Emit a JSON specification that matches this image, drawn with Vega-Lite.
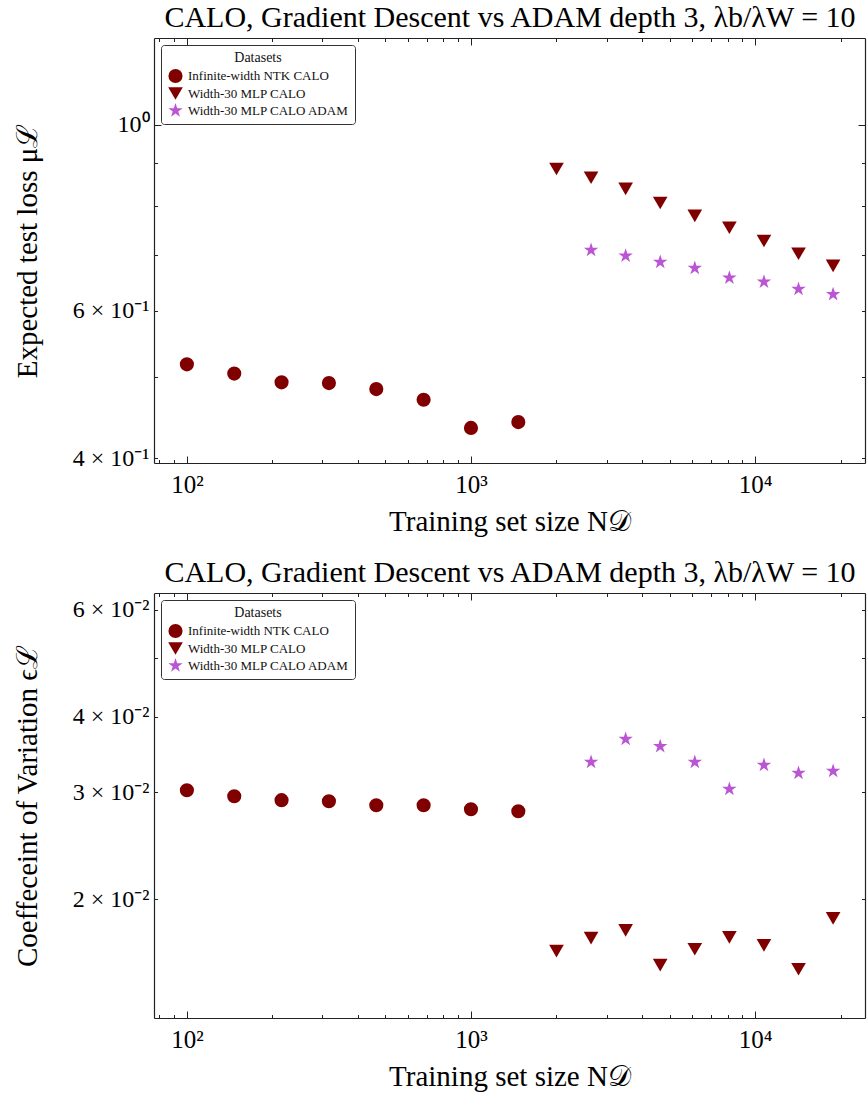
{
  "$schema": "https://vega.github.io/schema/vega-lite/v6.json",
  "autosize": "none",
  "width": 711,
  "height": 980,
  "padding": {"left": 154, "top": 38, "right": 3, "bottom": 75},
  "data": {"values": [
    {"series": "Infinite-width NTK CALO", "N": 100, "loss": 0.518, "cv": 0.03026},
    {"series": "Infinite-width NTK CALO", "N": 146.8, "loss": 0.505, "cv": 0.02958},
    {"series": "Infinite-width NTK CALO", "N": 215.4, "loss": 0.493, "cv": 0.02914},
    {"series": "Infinite-width NTK CALO", "N": 316.2, "loss": 0.492, "cv": 0.02902},
    {"series": "Infinite-width NTK CALO", "N": 464.2, "loss": 0.484, "cv": 0.02858},
    {"series": "Infinite-width NTK CALO", "N": 681.3, "loss": 0.470, "cv": 0.02858},
    {"series": "Infinite-width NTK CALO", "N": 1000, "loss": 0.435, "cv": 0.02815},
    {"series": "Infinite-width NTK CALO", "N": 1467.8, "loss": 0.442, "cv": 0.02794},
    {"series": "Width-30 MLP CALO", "N": 2000, "loss": 0.886, "cv": 0.01642},
    {"series": "Width-30 MLP CALO", "N": 2647, "loss": 0.865, "cv": 0.01725},
    {"series": "Width-30 MLP CALO", "N": 3503, "loss": 0.839, "cv": 0.01777},
    {"series": "Width-30 MLP CALO", "N": 4636, "loss": 0.807, "cv": 0.01557},
    {"series": "Width-30 MLP CALO", "N": 6136, "loss": 0.779, "cv": 0.01654},
    {"series": "Width-30 MLP CALO", "N": 8121, "loss": 0.754, "cv": 0.01731},
    {"series": "Width-30 MLP CALO", "N": 10748, "loss": 0.727, "cv": 0.01679},
    {"series": "Width-30 MLP CALO", "N": 14225, "loss": 0.702, "cv": 0.01533},
    {"series": "Width-30 MLP CALO", "N": 18826, "loss": 0.679, "cv": 0.01860},
    {"series": "Width-30 MLP CALO ADAM", "N": 2647, "loss": 0.709, "cv": 0.03366},
    {"series": "Width-30 MLP CALO ADAM", "N": 3503, "loss": 0.698, "cv": 0.03673},
    {"series": "Width-30 MLP CALO ADAM", "N": 4636, "loss": 0.686, "cv": 0.03576},
    {"series": "Width-30 MLP CALO ADAM", "N": 6136, "loss": 0.675, "cv": 0.03366},
    {"series": "Width-30 MLP CALO ADAM", "N": 8121, "loss": 0.657, "cv": 0.03038},
    {"series": "Width-30 MLP CALO ADAM", "N": 10748, "loss": 0.650, "cv": 0.03328},
    {"series": "Width-30 MLP CALO ADAM", "N": 14225, "loss": 0.637, "cv": 0.03229},
    {"series": "Width-30 MLP CALO ADAM", "N": 18826, "loss": 0.628, "cv": 0.03254}
  ]},
  "layer": [
    {
      "mark": {"type": "point", "filled": true, "opacity": 1},
      "encoding": {
        "x": {"field": "N", "type": "quantitative", "scale": {"type": "log", "domain": [76.6, 24380], "nice": false},
          "axis": {"orient": "bottom", "offset": -555, "values": [100, 1000, 10000], "ticks": false, "domain": false, "labelPadding": 9, "labelFontSize": 25,
            "labelExpr": "datum.value == 100 ? '10²' : datum.value == 1000 ? '10³' : '10⁴'",
            "title": "Training set size N𝒟", "titleFontSize": 29, "titlePadding": 10}},
        "y": {"field": "loss", "type": "quantitative", "scale": {"type": "log", "domain": [0.395, 1.27], "range": [425, 0], "nice": false},
          "axis": {"orient": "left", "values": [0.4, 0.6, 1], "ticks": false, "domain": false, "labelPadding": 5, "labelFontSize": 24,
            "labelExpr": "datum.value == 1 ? '10⁰' : datum.value == 0.6 ? '6 × 10⁻¹' : '4 × 10⁻¹'",
            "title": "Expected test loss μℒ", "titleFontSize": 29, "titleX": -127, "titleBaseline": "middle", "titleAlign": "center", "titleAngle": -90}},
        "color": {"field": "series", "type": "nominal",
          "scale": {"domain": ["Infinite-width NTK CALO", "Width-30 MLP CALO", "Width-30 MLP CALO ADAM"], "range": ["#800000", "#800000", "#BA55D3"]},
          "legend": {"title": "Datasets", "orient": "top-left", "offset": 7}},
        "shape": {"field": "series", "type": "nominal",
          "scale": {"domain": ["Infinite-width NTK CALO", "Width-30 MLP CALO", "Width-30 MLP CALO ADAM"], "range": ["circle", "triangle-down", "M0,-1L0.2245,-0.309L0.9511,-0.309L0.3633,0.118L0.5878,0.809L0,0.382L-0.5878,0.809L-0.3633,0.118L-0.9511,-0.309L-0.2245,-0.309Z"]},
          "legend": {"title": "Datasets", "orient": "top-left", "offset": 7}},
        "size": {"field": "series", "type": "nominal",
          "scale": {"domain": ["Infinite-width NTK CALO", "Width-30 MLP CALO", "Width-30 MLP CALO ADAM"], "range": [200, 230, 240]},
          "legend": null}
      }
    },
    {
      "mark": {"type": "point", "opacity": 0},
      "encoding": {
        "x": {"field": "N", "type": "quantitative", "scale": {"type": "log", "domain": [76.6, 24380], "nice": false},
          "axis": {"orient": "top", "offset": 0, "labels": false, "ticks": false, "domain": false, "values": [100],
            "title": "CALO, Gradient Descent vs ADAM depth 3, λb/λW = 10", "titleFontSize": 30, "titlePadding": 6}},
        "y": {"field": "loss", "type": "quantitative", "scale": {"type": "log", "domain": [0.395, 1.27], "range": [425, 0], "nice": false},
          "axis": {"orient": "right", "offset": -711, "labels": false, "title": null, "domain": true, "values": [1], "tickSize": 7}}
      }
    },
    {
      "mark": {"type": "point", "opacity": 0},
      "encoding": {
        "x": {"field": "N", "type": "quantitative", "scale": {"type": "log", "domain": [76.6, 24380], "nice": false},
          "axis": {"orient": "bottom", "offset": -980, "labels": false, "title": null, "domain": true, "values": [100, 1000, 10000], "tickSize": 7}},
        "y": {"field": "loss", "type": "quantitative", "scale": {"type": "log", "domain": [0.395, 1.27], "range": [425, 0], "nice": false},
          "axis": {"orient": "right", "offset": -711, "labels": false, "title": null, "domain": false, "values": [0.4, 0.5, 0.6, 0.7, 0.8, 0.9], "tickSize": 3.5}}
      }
    },
    {
      "mark": {"type": "point", "opacity": 0},
      "encoding": {
        "x": {"field": "N", "type": "quantitative", "scale": {"type": "log", "domain": [76.6, 24380], "nice": false},
          "axis": {"orient": "bottom", "offset": -980, "labels": false, "title": null, "domain": false, "values": [80, 90, 200, 300, 400, 500, 600, 700, 800, 900, 2000, 3000, 4000, 5000, 6000, 7000, 8000, 9000, 20000], "tickSize": 3.5}},
        "y": {"field": "loss", "type": "quantitative", "scale": {"type": "log", "domain": [0.395, 1.27], "range": [425, 0], "nice": false},
          "axis": {"orient": "left", "offset": -711, "labels": false, "title": null, "domain": true, "values": [1], "tickSize": 7}}
      }
    },
    {
      "mark": {"type": "point", "opacity": 0},
      "encoding": {
        "x": {"field": "N", "type": "quantitative", "scale": {"type": "log", "domain": [76.6, 24380], "nice": false},
          "axis": {"orient": "top", "offset": -425, "labels": false, "title": null, "domain": true, "values": [100, 1000, 10000], "tickSize": 7}},
        "y": {"field": "loss", "type": "quantitative", "scale": {"type": "log", "domain": [0.395, 1.27], "range": [425, 0], "nice": false},
          "axis": {"orient": "left", "offset": -711, "labels": false, "title": null, "domain": false, "values": [0.4, 0.5, 0.6, 0.7, 0.8, 0.9], "tickSize": 3.5}}
      }
    },
    {
      "mark": {"type": "point", "opacity": 0},
      "encoding": {
        "x": {"field": "N", "type": "quantitative", "scale": {"type": "log", "domain": [76.6, 24380], "nice": false},
          "axis": {"orient": "top", "offset": -425, "labels": false, "title": null, "domain": false, "values": [80, 90, 200, 300, 400, 500, 600, 700, 800, 900, 2000, 3000, 4000, 5000, 6000, 7000, 8000, 9000, 20000], "tickSize": 3.5}},
        "y": {"field": "loss", "type": "quantitative", "scale": {"type": "log", "domain": [0.395, 1.27], "range": [425, 0], "nice": false}, "axis": null}
      }
    },
    {
      "mark": {"type": "point", "filled": true, "opacity": 1},
      "encoding": {
        "x": {"field": "N", "type": "quantitative", "scale": {"type": "log", "domain": [76.6, 24380], "nice": false},
          "axis": {"orient": "bottom", "offset": 0, "values": [100, 1000, 10000], "ticks": false, "domain": false, "labelPadding": 9, "labelFontSize": 25,
            "labelExpr": "datum.value == 100 ? '10²' : datum.value == 1000 ? '10³' : '10⁴'",
            "title": "Training set size N𝒟", "titleFontSize": 29, "titlePadding": 10}},
        "y": {"field": "cv", "type": "quantitative", "scale": {"type": "log", "domain": [0.01274, 0.064], "range": [980, 555], "nice": false},
          "axis": {"orient": "left", "values": [0.02, 0.03, 0.04, 0.06], "ticks": false, "domain": false, "labelPadding": 5, "labelFontSize": 24,
            "labelExpr": "datum.value == 0.02 ? '2 × 10⁻²' : datum.value == 0.03 ? '3 × 10⁻²' : datum.value == 0.04 ? '4 × 10⁻²' : '6 × 10⁻²'",
            "title": "Coeffeceint of Variation ϵℒ", "titleFontSize": 29, "titleX": -127, "titleBaseline": "middle", "titleAlign": "center", "titleAngle": -90}},
        "color": {"field": "series", "type": "nominal",
          "scale": {"domain": ["Infinite-width NTK CALO", "Width-30 MLP CALO", "Width-30 MLP CALO ADAM"], "range": ["#800000", "#800000", "#BA55D3"]},
          "legend": {"title": "Datasets", "orient": "none", "legendX": 7, "legendY": 562}},
        "shape": {"field": "series", "type": "nominal",
          "scale": {"domain": ["Infinite-width NTK CALO", "Width-30 MLP CALO", "Width-30 MLP CALO ADAM"], "range": ["circle", "triangle-down", "M0,-1L0.2245,-0.309L0.9511,-0.309L0.3633,0.118L0.5878,0.809L0,0.382L-0.5878,0.809L-0.3633,0.118L-0.9511,-0.309L-0.2245,-0.309Z"]},
          "legend": {"title": "Datasets", "orient": "none", "legendX": 7, "legendY": 562}},
        "size": {"field": "series", "type": "nominal",
          "scale": {"domain": ["Infinite-width NTK CALO", "Width-30 MLP CALO", "Width-30 MLP CALO ADAM"], "range": [200, 230, 240]},
          "legend": null}
      }
    },
    {
      "mark": {"type": "point", "opacity": 0},
      "encoding": {
        "x": {"field": "N", "type": "quantitative", "scale": {"type": "log", "domain": [76.6, 24380], "nice": false},
          "axis": {"orient": "top", "offset": -555, "labels": false, "ticks": false, "domain": false, "values": [100],
            "title": "CALO, Gradient Descent vs ADAM depth 3, λb/λW = 10", "titleFontSize": 30, "titlePadding": 6}},
        "y": {"field": "cv", "type": "quantitative", "scale": {"type": "log", "domain": [0.01274, 0.064], "range": [980, 555], "nice": false},
          "axis": {"orient": "right", "offset": -711, "labels": false, "title": null, "domain": true, "values": [0.02, 0.03, 0.04, 0.05, 0.06], "tickSize": 3.5}}
      }
    },
    {
      "mark": {"type": "point", "opacity": 0},
      "encoding": {
        "x": {"field": "N", "type": "quantitative", "scale": {"type": "log", "domain": [76.6, 24380], "nice": false},
          "axis": {"orient": "bottom", "offset": -425, "labels": false, "title": null, "domain": true, "values": [100, 1000, 10000], "tickSize": 7}},
        "y": {"field": "cv", "type": "quantitative", "scale": {"type": "log", "domain": [0.01274, 0.064], "range": [980, 555], "nice": false},
          "axis": {"orient": "left", "offset": -711, "labels": false, "title": null, "domain": true, "values": [0.02, 0.03, 0.04, 0.05, 0.06], "tickSize": 3.5}}
      }
    },
    {
      "mark": {"type": "point", "opacity": 0},
      "encoding": {
        "x": {"field": "N", "type": "quantitative", "scale": {"type": "log", "domain": [76.6, 24380], "nice": false},
          "axis": {"orient": "bottom", "offset": -425, "labels": false, "title": null, "domain": false, "values": [80, 90, 200, 300, 400, 500, 600, 700, 800, 900, 2000, 3000, 4000, 5000, 6000, 7000, 8000, 9000, 20000], "tickSize": 3.5}},
        "y": {"field": "cv", "type": "quantitative", "scale": {"type": "log", "domain": [0.01274, 0.064], "range": [980, 555], "nice": false}, "axis": null}
      }
    },
    {
      "mark": {"type": "point", "opacity": 0},
      "encoding": {
        "x": {"field": "N", "type": "quantitative", "scale": {"type": "log", "domain": [76.6, 24380], "nice": false},
          "axis": {"orient": "top", "offset": -980, "labels": false, "title": null, "domain": true, "values": [100, 1000, 10000], "tickSize": 7}},
        "y": {"field": "cv", "type": "quantitative", "scale": {"type": "log", "domain": [0.01274, 0.064], "range": [980, 555], "nice": false}, "axis": null}
      }
    },
    {
      "mark": {"type": "point", "opacity": 0},
      "encoding": {
        "x": {"field": "N", "type": "quantitative", "scale": {"type": "log", "domain": [76.6, 24380], "nice": false},
          "axis": {"orient": "top", "offset": -980, "labels": false, "title": null, "domain": false, "values": [80, 90, 200, 300, 400, 500, 600, 700, 800, 900, 2000, 3000, 4000, 5000, 6000, 7000, 8000, 9000, 20000], "tickSize": 3.5}},
        "y": {"field": "cv", "type": "quantitative", "scale": {"type": "log", "domain": [0.01274, 0.064], "range": [980, 555], "nice": false}, "axis": null}
      }
    }
  ],
  "resolve": {
    "scale": {"x": "shared", "y": "independent", "color": "independent", "shape": "independent", "size": "independent"},
    "axis": {"x": "independent", "y": "independent"},
    "legend": {"color": "independent", "shape": "independent"}
  },
  "config": {
    "font": "Liberation Serif",
    "view": {"stroke": null},
    "axis": {"labelFont": "Liberation Serif", "titleFont": "Liberation Serif", "labelColor": "#000", "titleColor": "#000", "titleFontWeight": "normal", "tickColor": "#222", "tickWidth": 1, "domainColor": "#222", "domainWidth": 1.2, "grid": false, "labelOverlap": false, "minExtent": 0},
    "legend": {"padding": 6, "strokeColor": "#333", "strokeWidth": 1, "cornerRadius": 3, "fillColor": "#fff", "titleAnchor": "middle", "titleFont": "Liberation Serif", "labelFont": "Liberation Serif", "titleFontSize": 14, "labelFontSize": 13, "titleFontWeight": "normal", "labelColor": "#111", "titleColor": "#111", "rowPadding": 1, "symbolSize": 180, "titlePadding": 3, "labelLimit": 300}
  }
}
